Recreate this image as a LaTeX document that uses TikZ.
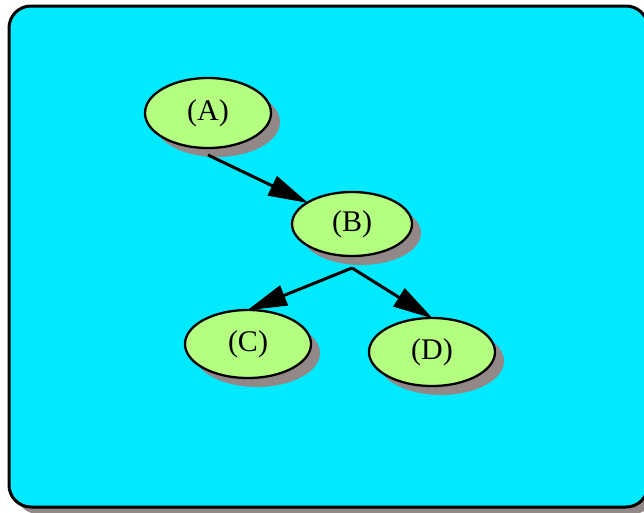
\documentclass[tikz,border=0pt]{standalone}
\usepackage{fontspec}
\setmainfont{Liberation Serif}
\usetikzlibrary{arrows.meta,shadows,shapes.geometric}
\definecolor{bgcyan}{RGB}{0,234,255}
\definecolor{nodegreen}{RGB}{180,255,128}
\definecolor{shadowgray}{RGB}{146,136,136}
\tikzset{
  treenode/.style={ellipse, draw=black, line width=2.3pt, fill=nodegreen,
    minimum width=126pt, minimum height=68pt, inner sep=0pt, outer sep=0pt,
    font=\fontsize{30}{31}\selectfont,
    drop shadow={shadow xshift=9pt, shadow yshift=-9pt, fill=shadowgray, opacity=1}},
  edge/.style={line width=3pt, -{Triangle[length=40pt,width=21pt]}, shorten >=-1pt},
  panel/.style={draw=black, line width=3pt, fill=bgcyan, rounded corners=22pt}
}
\begin{document}
\begin{tikzpicture}[x=1pt,y=-1pt]
\useasboundingbox (0,0) rectangle (644,512);
\begin{scope}
\clip (0,0) rectangle (644,512);
\fill[shadowgray, rounded corners=22pt] (16,13) rectangle (655,514);
\draw[panel] (9,6) rectangle (648,507);
\end{scope}
\node[treenode, minimum width=126pt, minimum height=70pt] (A) at (208,113) {(A)};
\node[treenode, minimum width=120pt, minimum height=64pt] (B) at (352,224) {(B)};
\node[treenode] (C) at (248,344) {(C)};
\node[treenode] (D) at (432,352) {(D)};
\draw[edge] ([yshift=-7pt]A.south) -- (B);
\draw[edge] ([yshift=-12pt]B.south) -- (C.north);
\draw[edge] ([yshift=-12pt]B.south) -- (D.north);
\end{tikzpicture}
\end{document}
